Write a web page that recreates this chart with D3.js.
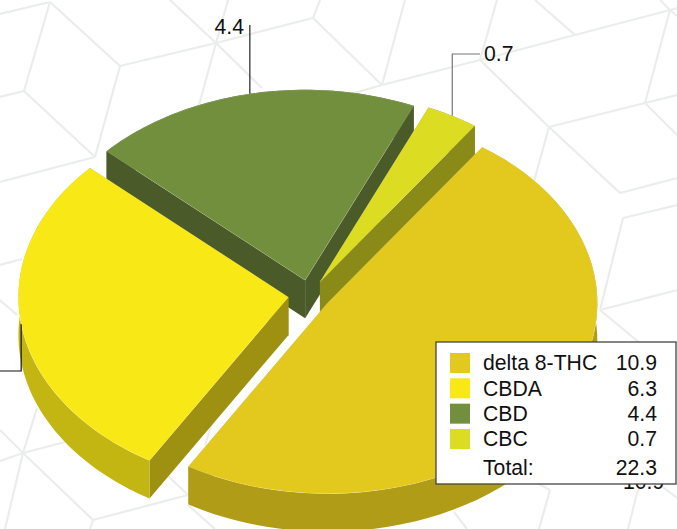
<!DOCTYPE html>
<html>
<head>
<meta charset="utf-8">
<script src="https://cdn.jsdelivr.net/npm/d3@7"></script>
<style>
  html, body { margin: 0; padding: 0; background: #fff; overflow: hidden; }
  svg { display: block; }
  text { font-family: "Liberation Sans", Arial, sans-serif; font-size: 21.2px; fill: #111; }
</style>
</head>
<body>
<div id="chart"></div>
<script>
var categories = ['delta 8-THC', 'CBDA', 'CBD', 'CBC']
var values = [10.9, 6.3, 4.4, 0.7]
var valueLabels = ['10.9', '6.3', '4.4', '0.7']
var totalLabel = 'Total:'
var totalValue = '22.3'
var topColors = ['#e3c81e', '#f7e816', '#728f3e', '#dcdc22']
var rimColors = ['#b09c16', '#c3b512', '#4a5a28', '#8a8a18']
var cutColors = ['#b09c16', '#9e9010', '#4a5a28', '#8a8a18']

// wallpaper lines behind the chart, x1 y1 x2 y2
var wallpaper = [
  [50,2,120,66],[50,2,24,91],[50,2,0,14],[24,91,0,97],[24,91,95,157],[120,66,95,157],
  [120,66,216,43],[216,43,313,18],[216,43,170,0],[216,43,228,0],[216,43,199,105],[216,43,262,88],
  [313,18,320,0],[313,18,382,85],[95,157,0,182],[0,265,22,259],[0,300,17,315],
  [382,85,405,0],[340,97,382,85],[382,85,480,60],[480,60,575,35],[575,35,670,10],[670,10,677,8],
  [480,60,497,0],[480,60,549,127],[549,127,620,193],[620,193,677,178],[549,127,645,103],
  [645,103,677,95],[549,127,533,185],[645,103,670,10],[645,103,677,135],[575,35,535,0],
  [670,10,660,0],[670,10,677,16],[623,218,677,205],[623,218,600,310],[600,310,677,290],[600,310,653,354],
  [23,453,37,408],[23,453,0,461],[23,453,65,442],[23,453,0,430],[23,453,5,529],[23,453,93,520],
  [93,520,188,495],[93,520,90,529],[167,475,188,495],[188,505,215,529],[213,420,205,445],
  [550,490,539,529],[550,490,537,483],[637,493,628,529],[637,493,642,484],[660,485,677,498],[454,512,467,529]
]

var width = 677, height = 529
var centerX = 309.5, centerY = 295
var radiusX = 270, radiusY = 190.5
var explode = 21.3
var depth = 38
var startDeg = 35

var svg = d3.select('#chart').append('svg').attr('width', width).attr('height', height)

svg.append('g').selectAll('line')
  .data(wallpaper)
  .enter().append('line')
  .attr('x1', function (d) { return d[0] })
  .attr('y1', function (d) { return d[1] })
  .attr('x2', function (d) { return d[2] })
  .attr('y2', function (d) { return d[3] })
  .attr('stroke', '#ebeded')
  .attr('stroke-width', 2.2)

var start = startDeg * Math.PI / 180
var pie = d3.pie().sort(null).startAngle(start).endAngle(start + 2 * Math.PI)
var slices = pie(values).map(function (d) {
  var mid = (d.startAngle + d.endAngle) / 2
  d.mid = mid
  d.cx = centerX + explode * Math.sin(mid)
  d.cy = centerY - explode * (radiusY / radiusX) * Math.cos(mid)
  return d
})

function rim(d, angle, drop) {
  return [d.cx + radiusX * Math.sin(angle), d.cy - radiusY * Math.cos(angle) + (drop || 0)]
}

var arc = d3.arc().innerRadius(0).outerRadius(radiusX)
var polygon = d3.line()

// far slices first so the near ones paint over them
var order = slices.slice().sort(function (a, b) { return Math.cos(b.mid) - Math.cos(a.mid) })

order.forEach(function (d) {
  var g = svg.append('g')
  var fill = topColors[d.index]
  var apex = [d.cx, d.cy]
  var apexLow = [d.cx, d.cy + depth]

  ;[d.startAngle, d.endAngle].forEach(function (a) {
    g.append('path')
      .attr('d', polygon([apex, rim(d, a), rim(d, a, depth), apexLow]) + 'Z')
      .attr('fill', cutColors[d.index])
  })

  var steps = d3.range(0, 61).map(function (i) {
    return d.startAngle + (d.endAngle - d.startAngle) * i / 60
  })
  var upper = steps.map(function (a) { return rim(d, a) })
  var lower = steps.slice().reverse().map(function (a) { return rim(d, a, depth) })
  g.append('path')
    .attr('d', polygon(upper.concat(lower)) + 'Z')
    .attr('fill', rimColors[d.index])

  g.append('path')
    .attr('d', arc(d))
    .attr('transform', 'translate(' + d.cx + ',' + d.cy + ') scale(1,' + radiusY / radiusX + ')')
    .attr('fill', fill)
    .attr('stroke', 'rgba(255,255,255,0.3)')
    .attr('stroke-width', 0.5)
    .attr('vector-effect', 'non-scaling-stroke')
})

// leader lines run from the rim at each slice's middle angle
var leaderEnds = [
  { y: 482, x: 620, anchor: 'start', labelX: 623, stroke: '#222' },
  { y: 371, x: -4, anchor: 'end', labelX: -8, stroke: '#111' },
  { y: 25, x: null, anchor: 'end', labelX: 244, labelY: 27, stroke: '#222' },
  { y: 54, x: 480, anchor: 'start', labelX: 484, stroke: '#777' }
]

slices.forEach(function (d) {
  var end = leaderEnds[d.index]
  var from = rim(d, d.mid)
  var points = [from, [from[0], end.y]]
  if (end.x !== null) points.push([end.x, end.y])
  svg.append('path')
    .attr('d', polygon(points))
    .attr('fill', 'none')
    .attr('stroke', end.stroke)
    .attr('stroke-width', 1.2)
  svg.append('text')
    .attr('x', end.labelX)
    .attr('y', end.labelY || end.y)
    .attr('dy', '.35em')
    .attr('text-anchor', end.anchor)
    .text(valueLabels[d.index])
})

// legend
var legend = svg.append('g')
legend.append('rect')
  .attr('x', 436).attr('y', 342)
  .attr('width', 240).attr('height', 142)
  .attr('fill', '#fff')
  .attr('stroke', '#444')
  .attr('stroke-width', 1.3)

var rowY = d3.scalePoint().domain(categories).range([363, 439])

categories.forEach(function (name, i) {
  legend.append('rect')
    .attr('x', 450).attr('y', rowY(name) - 10)
    .attr('width', 20).attr('height', 20)
    .attr('fill', topColors[i])
  legend.append('text')
    .attr('x', 483).attr('y', rowY(name))
    .attr('dy', '.35em')
    .text(name)
  legend.append('text')
    .attr('x', 657).attr('y', rowY(name))
    .attr('dy', '.35em')
    .attr('text-anchor', 'end')
    .text(valueLabels[i])
})

legend.append('text').attr('x', 483).attr('y', 468).attr('dy', '.35em').text(totalLabel)
legend.append('text').attr('x', 657).attr('y', 468).attr('dy', '.35em')
  .attr('text-anchor', 'end').text(totalValue)
</script>
</body>
</html>
